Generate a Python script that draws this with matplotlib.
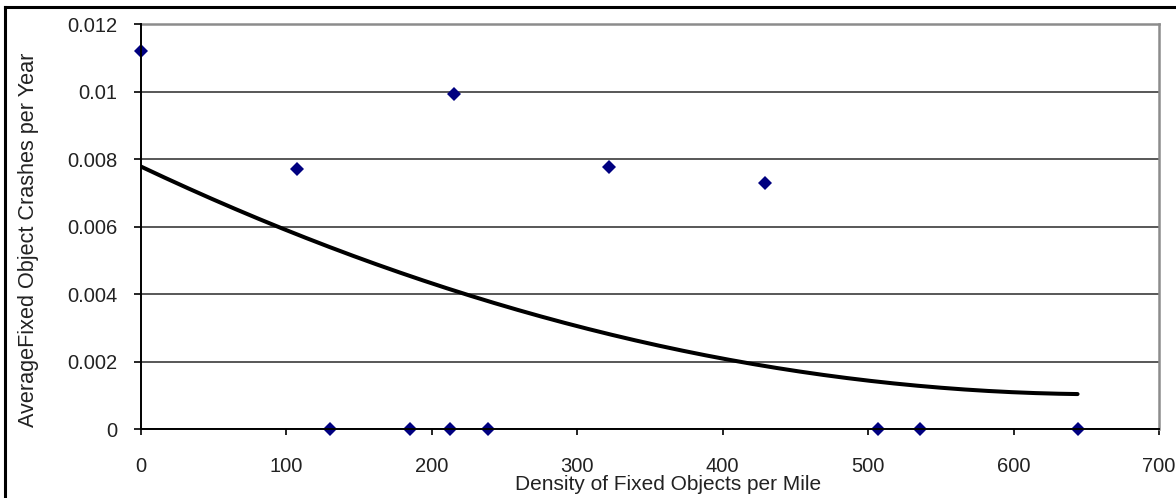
import numpy as np
import matplotlib
matplotlib.use('Agg')
import matplotlib.pyplot as plt
from matplotlib.lines import Line2D

# values
density = [0, 107, 130, 185, 212.5, 215, 238.6, 322, 429, 507, 536, 644]
crashes = [0.0112, 0.0077, 0, 0, 0, 0.00993, 0, 0.00775, 0.0073, 0, 0, 0]

x_ticks = [0, 100, 200, 300, 400, 500, 600, 700]
y_ticks = [0, 0.002, 0.004, 0.006, 0.008, 0.01, 0.012]
y_tick_labels = ['0', '0.002', '0.004', '0.006', '0.008', '0.01', '0.012']

plt.rcParams['font.family'] = ['Liberation Sans', 'DejaVu Sans']

fig = plt.figure(figsize=(11.76, 4.98), dpi=100)
ax = fig.add_axes([141 / 1176, 1 - 429 / 498, (1159 - 141) / 1176, (429 - 24) / 498])

# polynomial trendline (order 2) over the data range
coef = np.polyfit(density, crashes, 2)
tx = np.linspace(min(density), max(density), 200)
ax.plot(tx, np.polyval(coef, tx), color='black', lw=2.9, solid_capstyle='round', zorder=3)

ax.plot(density, crashes, linestyle='none', marker='D', ms=7.6, color='#000080',
        markeredgewidth=0, clip_on=False, zorder=4)

ax.set_xlim(0, 700)
ax.set_ylim(0, 0.012)
ax.set_xticks(x_ticks)
ax.set_yticks(y_ticks)
ax.set_yticklabels(y_tick_labels)
ax.tick_params(axis='y', direction='out', length=5, width=1.2, pad=12, labelsize=14.5, colors='black')
ax.tick_params(axis='x', direction='out', length=4.5, width=1.2, pad=16, labelsize=14.5, colors='black')
for lab in ax.get_xticklabels() + ax.get_yticklabels():
    lab.set_color('#222222')

ax.grid(axis='y', color='#4a4a4a', lw=1.3)
ax.set_axisbelow(True)
for s in ['left', 'bottom']:
    ax.spines[s].set_color('black')
    ax.spines[s].set_linewidth(1.4)
    ax.spines[s].set_zorder(5)
for s in ['top', 'right']:
    ax.spines[s].set_color('#8c8c8c')
    ax.spines[s].set_linewidth(1.8)

fig.text(668 / 1176, 1 - 490 / 498, 'Density of Fixed Objects per Mile', ha='center', va='baseline',
         fontsize=15, color='#222222')
fig.text(29 / 1176, 1 - 240 / 498, 'AverageFixed Object Crashes per Year', ha='center', va='center',
         rotation=90, fontsize=15.6, color='#222222')

# outer chart border (runs off the right and bottom edges)
fig.add_artist(Line2D([5 / 1176, 1.01], [1 - 7.5 / 498, 1 - 7.5 / 498], transform=fig.transFigure, color='black', lw=2.2))
fig.add_artist(Line2D([5 / 1176, 5 / 1176], [1 - 7.5 / 498, -0.01], transform=fig.transFigure, color='black', lw=2.2))

fig.savefig('out.png', dpi=100)
